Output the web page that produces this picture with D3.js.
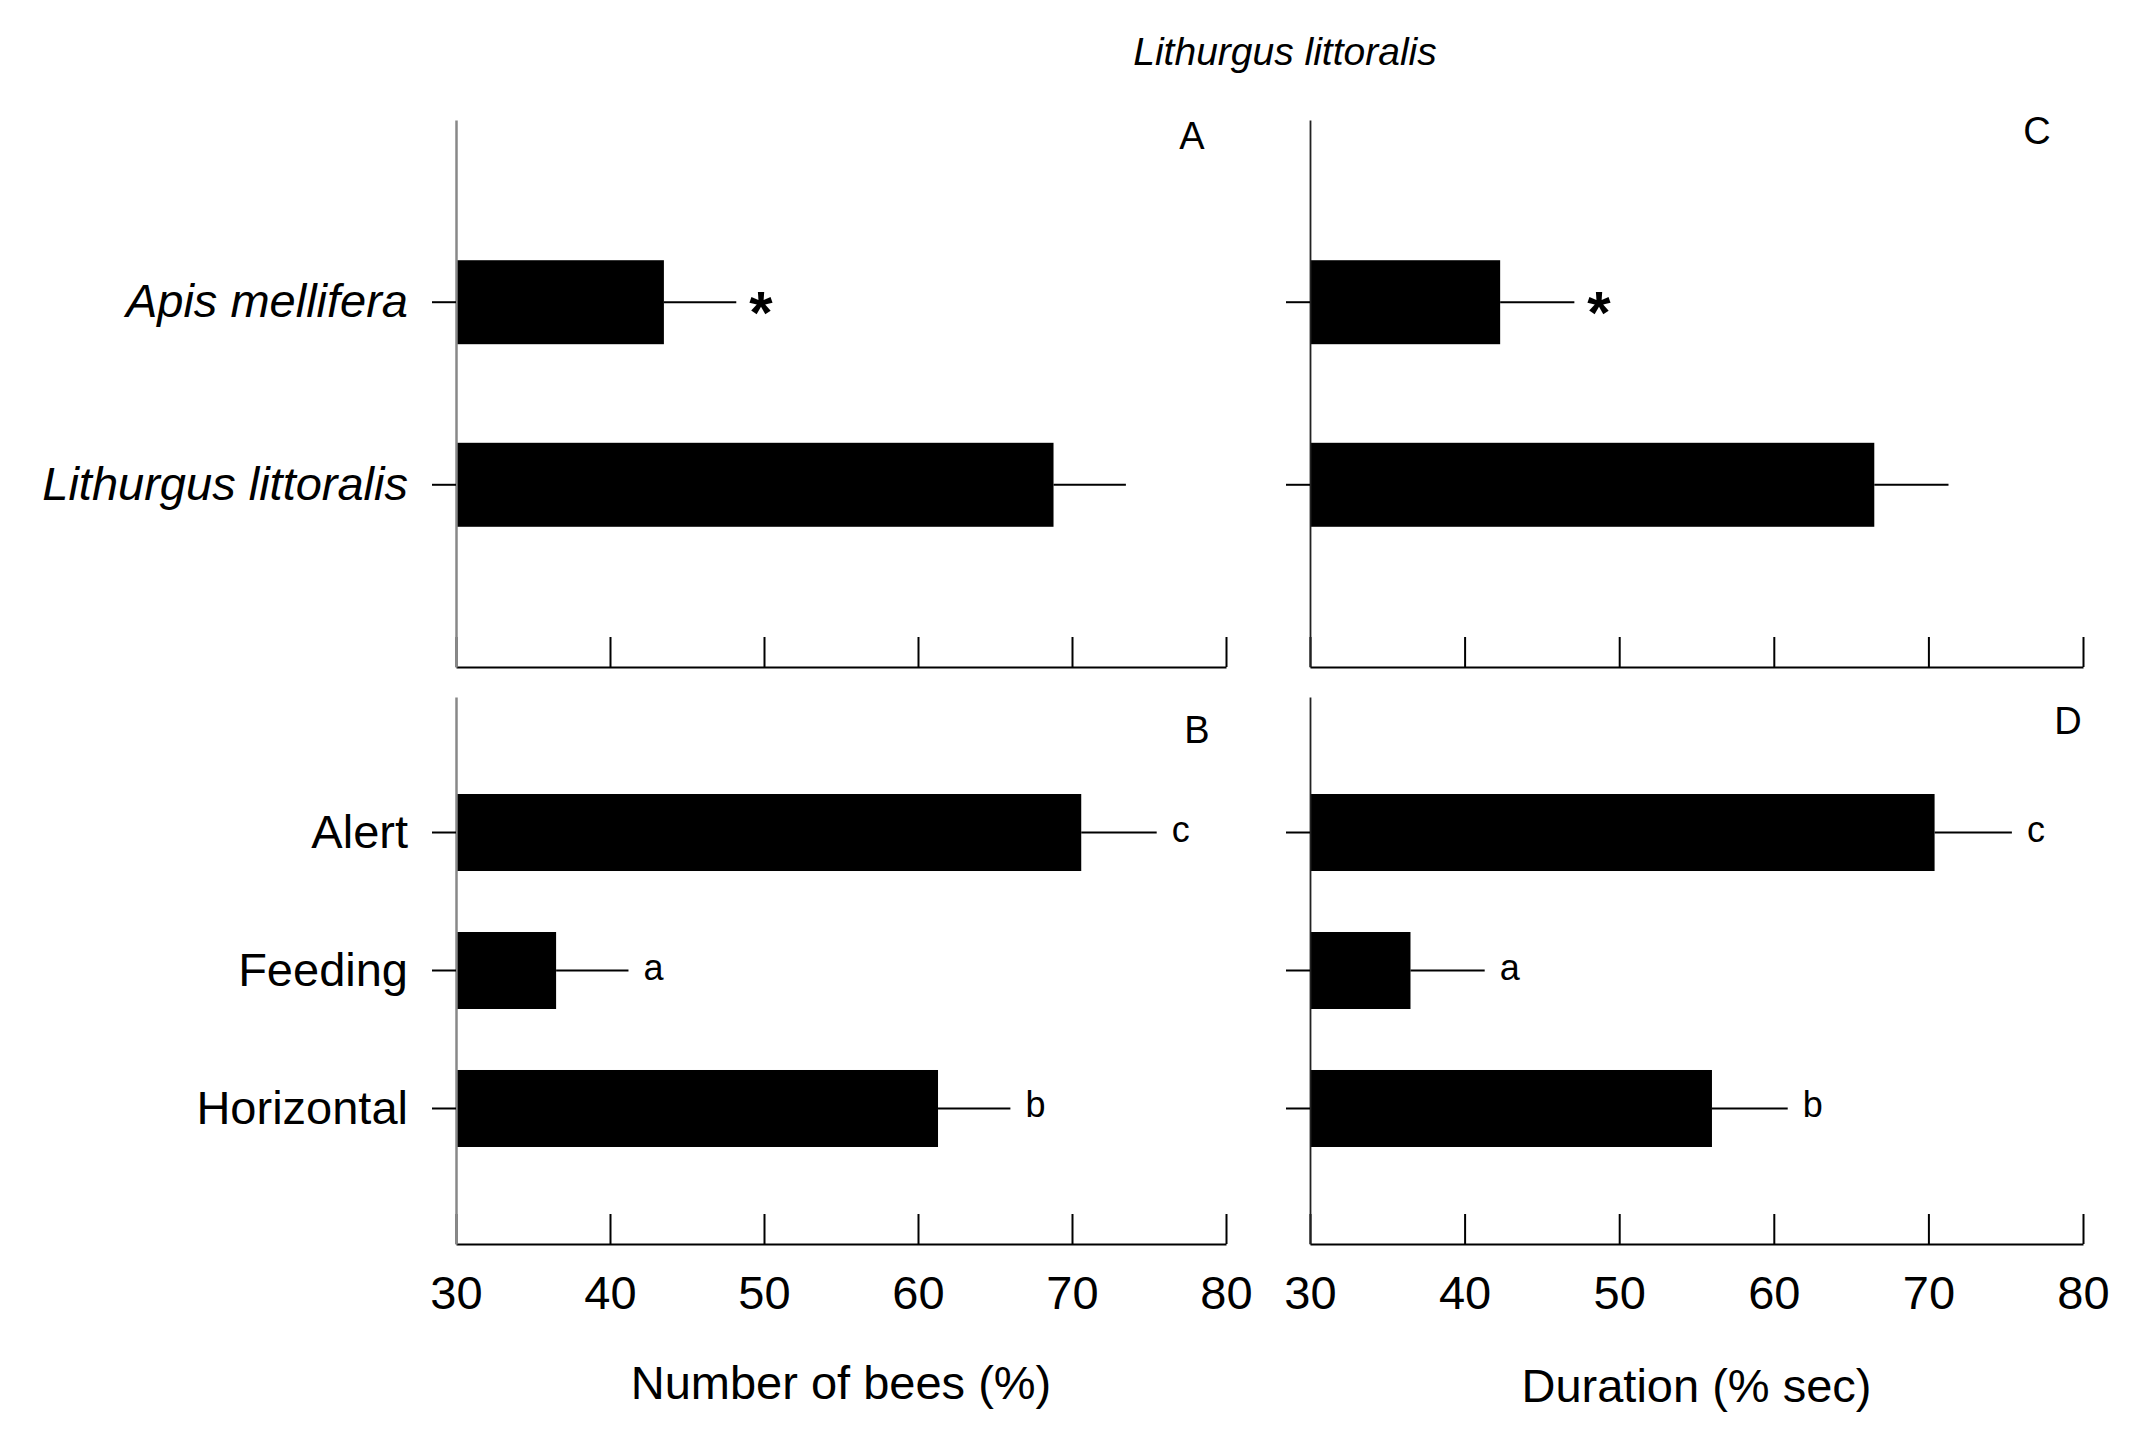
<!DOCTYPE html>
<html>
<head>
<meta charset="utf-8">
<script src="https://cdn.jsdelivr.net/npm/d3@7"></script>
<style>
  body { margin: 0; background: #fff; }
  text { font-family: "Liberation Sans", Arial, sans-serif; fill: #000; }
</style>
</head>
<body>
<div id="vis"></div>
<script>
const FRAME_WIDTH = 2143;
const FRAME_HEIGHT = 1440;

// data
const speciesCats = ["Apis mellifera", "Lithurgus littoralis"];
const behaviourCats = ["Alert", "Feeding", "Horizontal"];
const xTicks = [30, 40, 50, 60, 70, 80];

const beesSpecies = [43.5, 68.8];
const beesSpeciesErr = [4.7, 4.7];
const beesSpeciesMarks = ["*", ""];

const durSpecies = [42.3, 66.5];
const durSpeciesErr = [4.8, 4.8];
const durSpeciesMarks = ["*", ""];

const beesBehaviour = [70.6, 36.5, 61.3];
const beesBehaviourErr = [4.9, 4.7, 4.7];
const beesBehaviourMarks = ["c", "a", "b"];

const durBehaviour = [70.4, 36.5, 56.0];
const durBehaviourErr = [5.0, 4.8, 4.9];
const durBehaviourMarks = ["c", "a", "b"];

const FRAME = d3.select("#vis")
  .append("svg")
    .attr("width", FRAME_WIDTH)
    .attr("height", FRAME_HEIGHT);

// layout
const COLS = [{left: 456, right: 1226}, {left: 1310, right: 2083}];
const ROWS = [{top: 120, bottom: 667}, {top: 697, bottom: 1244}];

function drawPanel(p) {
  const col = COLS[p.col];
  const row = ROWS[p.row];
  const X = d3.scaleLinear().domain([30, 80]).range([col.left, col.right]);
  const Y = d3.scaleBand()
    .domain(p.cats)
    .range([row.top, row.bottom])
    .paddingInner(p.row === 0 ? 0.54 : 0.442)
    .paddingOuter(p.row === 0 ? 0.768 : 0.703);

  const g = FRAME.append("g");
  const rows = p.cats.map((c, i) => ({cat: c, v: p.values[i], e: p.errs[i], m: p.marks[i]}));

  // bars
  g.selectAll(".bar")
    .data(rows)
    .enter()
    .append("rect")
      .attr("x", X(30))
      .attr("y", d => Y(d.cat))
      .attr("width", d => X(d.v) - X(30))
      .attr("height", Y.bandwidth())
      .attr("fill", "#000");

  // error bars (one-sided)
  g.selectAll(".err")
    .data(rows)
    .enter()
    .append("line")
      .attr("x1", d => X(d.v))
      .attr("x2", d => X(d.v + d.e))
      .attr("y1", d => Y(d.cat) + Y.bandwidth() / 2)
      .attr("y2", d => Y(d.cat) + Y.bandwidth() / 2)
      .attr("stroke", "#000")
      .attr("stroke-width", 2);

  // significance marks
  g.selectAll(".mark")
    .data(rows)
    .enter()
    .append("text")
      .attr("x", d => X(d.v + d.e) + (d.m === "*" ? 13 : 15))
      .attr("y", d => Y(d.cat) + Y.bandwidth() / 2 + (d.m === "*" ? 31 : 9))
      .attr("font-size", d => d.m === "*" ? "60px" : "36px")
      .attr("font-weight", d => d.m === "*" ? "bold" : "normal")
      .text(d => d.m);

  // x axis
  const xAxis = d3.axisBottom(X)
    .tickValues(xTicks)
    .tickSizeInner(-30)
    .tickSizeOuter(0)
    .tickPadding(p.showTicks ? 32 : 0)
    .tickFormat(p.showTicks ? d3.format("d") : "");
  const gx = g.append("g")
    .attr("transform", "translate(0," + row.bottom + ")")
    .call(xAxis);
  gx.select(".domain").attr("stroke", "#000").attr("stroke-width", 2);
  gx.selectAll(".tick line").attr("stroke", "#000").attr("stroke-width", 2);
  gx.selectAll(".tick text")
    .attr("font-size", "47px")
    .attr("font-family", "Liberation Sans, Arial, sans-serif");

  // y axis
  const yAxis = d3.axisLeft(Y)
    .tickSizeInner(24)
    .tickSizeOuter(0)
    .tickPadding(24)
    .tickFormat(p.showCats ? (d => d) : "");
  const gy = g.append("g")
    .attr("transform", "translate(" + col.left + ",0)")
    .call(yAxis);
  gy.select(".domain").attr("stroke", p.col === 0 ? "#888" : "#222").attr("stroke-width", p.col === 0 ? 2.5 : 1.8);
  gy.selectAll(".tick line").attr("stroke", "#000").attr("stroke-width", 2);
  gy.selectAll(".tick text")
    .attr("font-size", "47px")
    .attr("font-family", "Liberation Sans, Arial, sans-serif")
    .attr("font-style", p.row === 0 ? "italic" : "normal");

  // panel letter
  g.append("text")
    .attr("x", col.right - p.letterDx)
    .attr("y", row.top + p.letterDy)
    .attr("text-anchor", "middle")
    .attr("font-size", "38px")
    .text(p.letter);
}

drawPanel({col: 0, row: 0, cats: speciesCats, values: beesSpecies, errs: beesSpeciesErr, marks: beesSpeciesMarks,
  letter: "A", letterDx: 34, letterDy: 29, showTicks: false, showCats: true});
drawPanel({col: 1, row: 0, cats: speciesCats, values: durSpecies, errs: durSpeciesErr, marks: durSpeciesMarks,
  letter: "C", letterDx: 46, letterDy: 24, showTicks: false, showCats: false});
drawPanel({col: 0, row: 1, cats: behaviourCats, values: beesBehaviour, errs: beesBehaviourErr, marks: beesBehaviourMarks,
  letter: "B", letterDx: 29, letterDy: 46, showTicks: true, showCats: true});
drawPanel({col: 1, row: 1, cats: behaviourCats, values: durBehaviour, errs: durBehaviourErr, marks: durBehaviourMarks,
  letter: "D", letterDx: 15, letterDy: 37, showTicks: true, showCats: false});

// title and axis titles
FRAME.append("text")
  .attr("x", 1285)
  .attr("y", 65)
  .attr("text-anchor", "middle")
  .attr("font-size", "39px")
  .attr("font-style", "italic")
  .text("Lithurgus littoralis");

FRAME.append("text")
  .attr("x", (COLS[0].left + COLS[0].right) / 2)
  .attr("y", 1399)
  .attr("text-anchor", "middle")
  .attr("font-size", "47px")
  .text("Number of bees (%)");

FRAME.append("text")
  .attr("x", (COLS[1].left + COLS[1].right) / 2)
  .attr("y", 1402)
  .attr("text-anchor", "middle")
  .attr("font-size", "47px")
  .text("Duration (% sec)");
</script>
</body>
</html>
